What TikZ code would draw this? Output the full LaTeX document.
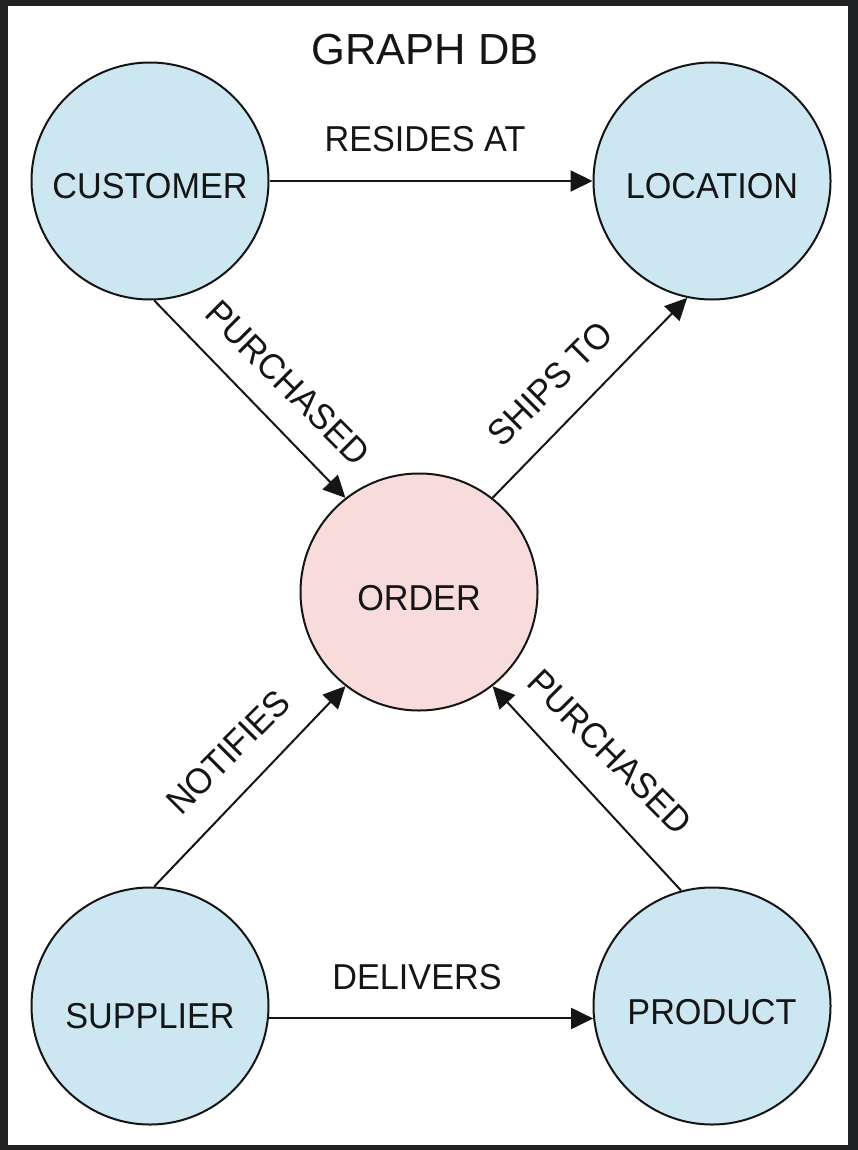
\documentclass[tikz,border=0pt]{standalone}
\usepackage{fontspec}
\setmainfont{Liberation Sans}
\newfontfamily\lblfont[FakeStretch=0.95]{Liberation Sans}
\usetikzlibrary{arrows.meta}
\definecolor{framec}{HTML}{212224}
\definecolor{nodeblue}{HTML}{CCE7F2}
\definecolor{nodepink}{HTML}{F8DCDC}
\definecolor{ink}{HTML}{151515}
\begin{document}
\begin{tikzpicture}[x=1pt,y=-1pt,
  ent/.style={circle, draw=ink, line width=2pt, minimum size=237pt, inner sep=0pt,
    fill=nodeblue, font=\lblfont\fontsize{36}{42}\selectfont, text=ink,
    text height=36pt, text depth=0pt},
  lbl/.style={font=\lblfont\fontsize{36}{42}\selectfont, text=ink, inner sep=0pt},
  rel/.style={draw=ink, line width=2pt, -{Triangle[length=22pt,width=21pt]}}]
% frame
\fill[framec] (0,0) rectangle (858,1150);
\fill[white] (8,6) rectangle (848,1145);
\useasboundingbox (0,0) rectangle (858,1150);
% title
\node[lbl, font=\fontsize{43.5}{50}\selectfont] (title) at (425,50) {GRAPH DB};
% entities
\node[ent] (cust) at (150,181) {CUSTOMER};
\node[ent] (loc) at (712,181) {LOCATION};
\node[ent, fill=nodepink] (order) at (419,592) {ORDER};
\node[ent, text height=44pt] (sup) at (150,1006) {SUPPLIER};
\node[ent] (prod) at (712,1006) {PRODUCT};
% relations
\draw[rel] (cust.east) -- (loc.west);
\draw[rel] (cust.-88) -- (order.128);
\draw[rel] (order.52) -- (loc.258);
\draw[rel] (sup.88) -- (order.232);
\draw[rel] (prod.105) -- (order.308);
\draw[rel] (sup.-6) -- (prod.186);
% labels
\node[lbl] (lresides) at (425,139) {RESIDES AT};
\node[lbl, rotate=-45] (lpurch1) at (288,383) {PURCHASED};
\node[lbl, rotate=45] (lships) at (550,384) {SHIPS TO};
\node[lbl, rotate=45] (lnotif) at (228,752) {NOTIFIES};
\node[lbl, rotate=-45] (lpurch2) at (610,752) {PURCHASED};
\node[lbl] (ldeliv) at (417,977) {DELIVERS};
\end{tikzpicture}
\end{document}
